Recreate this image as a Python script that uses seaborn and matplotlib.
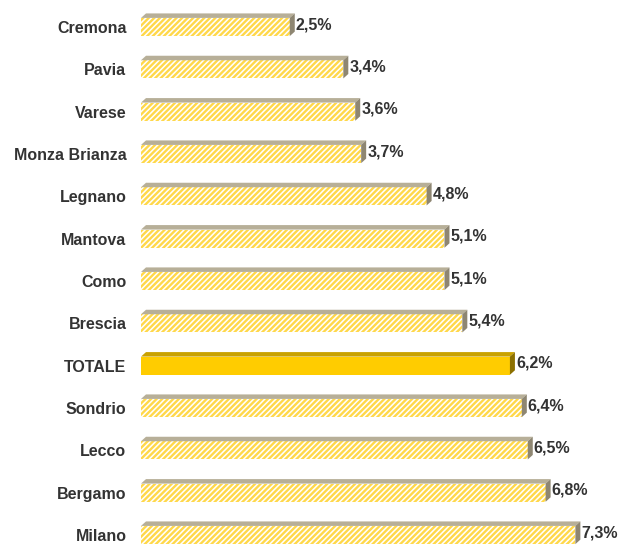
import matplotlib
matplotlib.use("Agg")
import matplotlib.pyplot as plt
from matplotlib.patches import Polygon
import seaborn as sns
import pandas as pd

provinces = ["Cremona", "Pavia", "Varese", "Monza Brianza", "Legnano", "Mantova",
             "Como", "Brescia", "TOTALE", "Sondrio", "Lecco", "Bergamo", "Milano"]
shares = [2.5, 3.4, 3.6, 3.7, 4.8, 5.1, 5.1, 5.4, 6.2, 6.4, 6.5, 6.8, 7.3]
value_labels = ["2,5%", "3,4%", "3,6%", "3,7%", "4,8%", "5,1%", "5,1%", "5,4%",
                "6,2%", "6,4%", "6,5%", "6,8%", "7,3%"]
highlight = "TOTALE"

sns.set_theme(style="white")
plt.rcParams["font.family"] = ["Liberation Sans", "DejaVu Sans"]
plt.rcParams["hatch.linewidth"] = 1.7

df = pd.DataFrame({"provincia": provinces, "quota": shares})

fig = plt.figure(figsize=(6.19, 5.48), dpi=100)
ax = fig.add_axes([0.2278, 0.0005, 0.7690, 0.9927])

sns.barplot(data=df, x="quota", y="provincia", orient="h", width=0.43,
            color="white", ax=ax)

ax.set_xlim(0, 8)
ax.set_ylim(12.3, -0.55)

# depth of the extruded faces, in pixels -> data units
px_x = 8 / (0.7690 * 619)
px_y = 12.85 / (0.9927 * 548)
dx, dy = 5 * px_x, 4.5 * px_y

for patch, name, lab in zip(ax.patches, provinces, value_labels):
    x0 = patch.get_x()
    w = patch.get_width()
    y = patch.get_y()
    h = patch.get_height()
    x1 = x0 + w
    yt, yb = y, y + h  # axis is inverted: y is the visual top
    if name == highlight:
        patch.set_facecolor("#FFCC00")
        patch.set_edgecolor("#FFCC00")
        patch.set_linewidth(0)
        top_c, side_c = "#C9A100", "#8C7000"
    else:
        patch.set_facecolor("white")
        patch.set_edgecolor("#FFD84A")
        patch.set_hatch("//////")
        patch.set_linewidth(0)
        top_c, side_c = "#B7AF98", "#8E8672"
    top = Polygon([(x0, yt), (x0 + dx, yt - dy), (x1 + dx, yt - dy), (x1, yt)],
                  closed=True, facecolor=top_c, edgecolor="none", zorder=3)
    side = Polygon([(x1, yt), (x1 + dx, yt - dy), (x1 + dx, yb - dy), (x1, yb)],
                   closed=True, facecolor=side_c, edgecolor="none", zorder=3)
    ax.add_patch(top)
    ax.add_patch(side)
    ax.text(x1 + dx + 1.0 * px_x, (yt + yb) / 2 - dy / 2, lab, va="center", ha="left",
            fontsize=11.5, fontweight="bold", color="#333333")

ax.set_xlabel("")
ax.set_ylabel("")
ax.set_xticks([])
ax.tick_params(axis="y", length=0, pad=10.5)
for t in ax.get_yticklabels():
    t.set_fontweight("bold")
    t.set_fontsize(11.5)
    t.set_color("#333333")
for s in ax.spines.values():
    s.set_visible(False)

fig.savefig("out.png", dpi=100)
